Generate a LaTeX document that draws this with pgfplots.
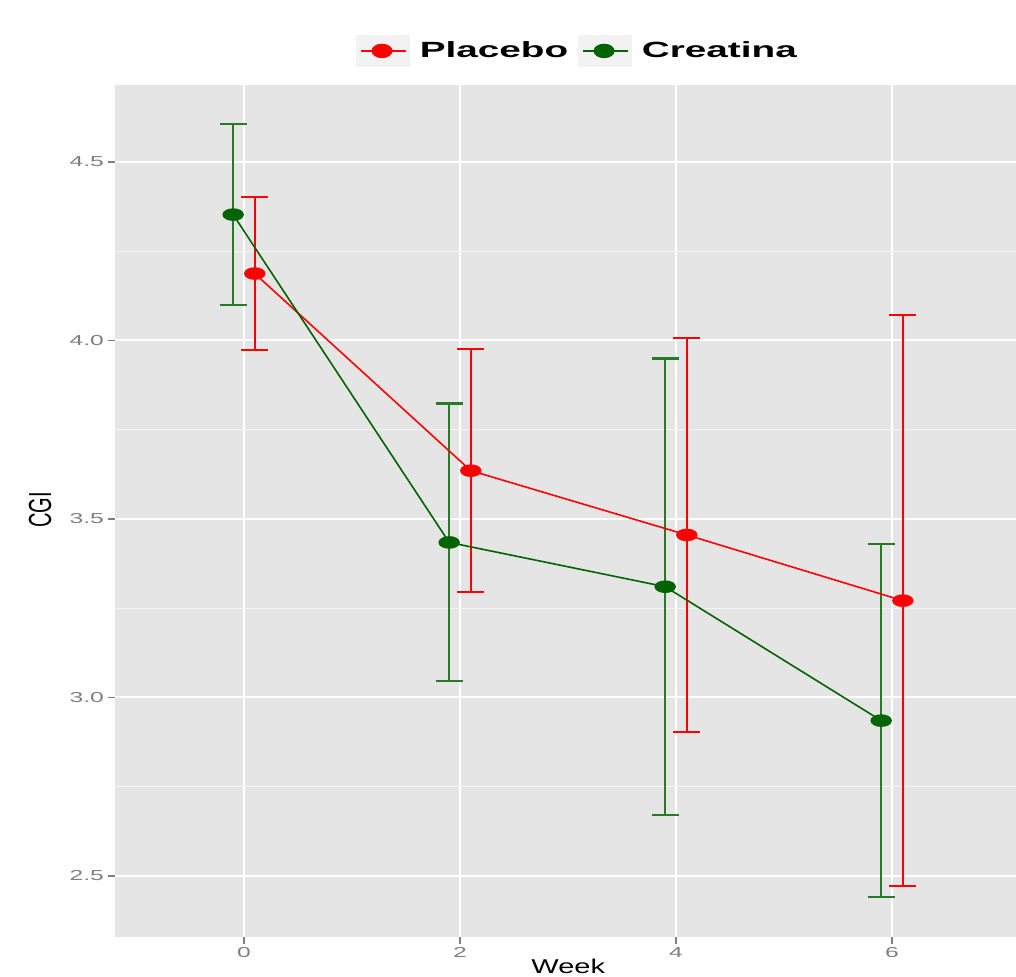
\documentclass[border=0pt]{standalone}
\usepackage{fontspec}
\setmainfont{Liberation Sans}
\usepackage{graphicx}
\usepackage{pgfplots}
\usepackage{pgfplotstable}
\pgfplotsset{compat=1.18}
\definecolor{cred}{HTML}{FF0000}
\definecolor{cgreen}{HTML}{006400}
\definecolor{panel}{HTML}{E5E5E5}
\definecolor{tickgrey}{HTML}{7F7F7F}
\definecolor{keybg}{HTML}{F2F2F2}
\pgfplotstableread{
x y e
0.1 4.187 0.215
2.1 3.635 0.340
4.1 3.455 0.552
6.1 3.271 0.800
}\placebo
\pgfplotstableread{
x y e
-0.1 4.352 0.254
1.9 3.434 0.389
3.9 3.310 0.639
5.9 2.935 0.495
}\creatina
\begin{document}
\begin{tikzpicture}[x=1pt,y=1pt]
\path[use as bounding box] (0,0) rectangle (508,488);
\begin{axis}[
  at={(57.5pt,19.5pt)}, anchor=south west,
  scale only axis, width=450.5pt, height=426pt,
  xmin=-1.194, xmax=7.148, ymin=2.329, ymax=4.715,
  axis background/.style={fill=panel},
  axis line style={draw=none},
  xtick={0,2,4,6}, ytick={2.5,3,3.5,4,4.5},
  minor ytick={2.75,3.25,3.75,4.25},
  grid=both,
  major grid style={white, line width=1pt},
  minor grid style={white!60!panel, line width=0.5pt},
  tick align=outside, tick pos=left,
  major tick length=3.5pt, minor tick length=0pt,
  tick style={tickgrey, line width=0.8pt},
  /pgf/number format/assume math mode=true,
  xticklabel={\scalebox{1.7}[1]{\pgfmathprintnumber{\tick}}},
  yticklabel={\scalebox{1.7}[1]{\pgfmathprintnumber[fixed,precision=1,fixed zerofill]{\tick}}},
  ticklabel style={font=\fontsize{7.25}{8}\selectfont, text=tickgrey},
  yticklabel style={xshift=1.5pt},
  xticklabel style={yshift=2pt},
  xlabel={\scalebox{1.45}[1]{Week}},
  ylabel={\scalebox{1}[1.6]{CGI}},
  label style={font=\fontsize{9}{10}\selectfont},
  every axis x label/.style={at={(axis description cs:0.503,-0.0434)}, anchor=base, inner sep=0pt},
  every axis y label/.style={at={(axis description cs:-0.0832,0.501)}, anchor=center, rotate=90},
  legend columns=2,
  legend cell align=left,
  legend style={at={(0.5122,1.0400)}, anchor=center, draw=none, fill=none, inner sep=0pt,
    column sep=5pt, font=\bfseries\fontsize{11}{13}\selectfont, nodes={inner sep=0pt}},
]
% error bars (drawn first, as ggplot layers)
\addplot[forget plot, draw=none, mark=none,
  error bars/.cd, y dir=both, y explicit,
  error bar style={draw=cred, line width=1.1pt},
  error mark options={rotate=90, draw=cred, mark size=6.75pt, line width=1.1pt}]
  table[x=x, y=y, y error=e]{\placebo};
\addplot[forget plot, draw=none, mark=none,
  error bars/.cd, y dir=both, y explicit,
  error bar style={draw=cgreen!85!white, line width=1.1pt},
  error mark options={rotate=90, draw=cgreen!85!white, mark size=6.75pt, line width=1.1pt}]
  table[x=x, y=y, y error=e]{\creatina};
% lines and points
\addplot[cred, line width=0.8pt, mark=*, mark size=2.75pt,
  mark options={xscale=1.8, fill=cred, draw=none},
  legend image code/.code={
    \fill[keybg] (0pt,-7.5pt) rectangle (26pt,7.5pt);
    \draw[cred, line width=1pt] (2pt,0pt) -- (24.5pt,0pt);
    \fill[cred] (12.5pt,0pt) ellipse [x radius=4.85pt, y radius=3.2pt];
  }]
  table[x=x, y=y]{\placebo};
\addlegendentry{\scalebox{1.76}[1]{Placebo}}
\addplot[cgreen, line width=0.8pt, mark=*, mark size=2.75pt,
  mark options={xscale=1.8, fill=cgreen, draw=none},
  legend image code/.code={
    \fill[keybg] (0pt,-7.5pt) rectangle (26pt,7.5pt);
    \draw[cgreen, line width=1pt] (2pt,0pt) -- (24.5pt,0pt);
    \fill[cgreen] (12.5pt,0pt) ellipse [x radius=4.85pt, y radius=3.2pt];
  }]
  table[x=x, y=y]{\creatina};
\addlegendentry{\scalebox{1.76}[1]{Creatina}}
\end{axis}
\end{tikzpicture}
\end{document}
